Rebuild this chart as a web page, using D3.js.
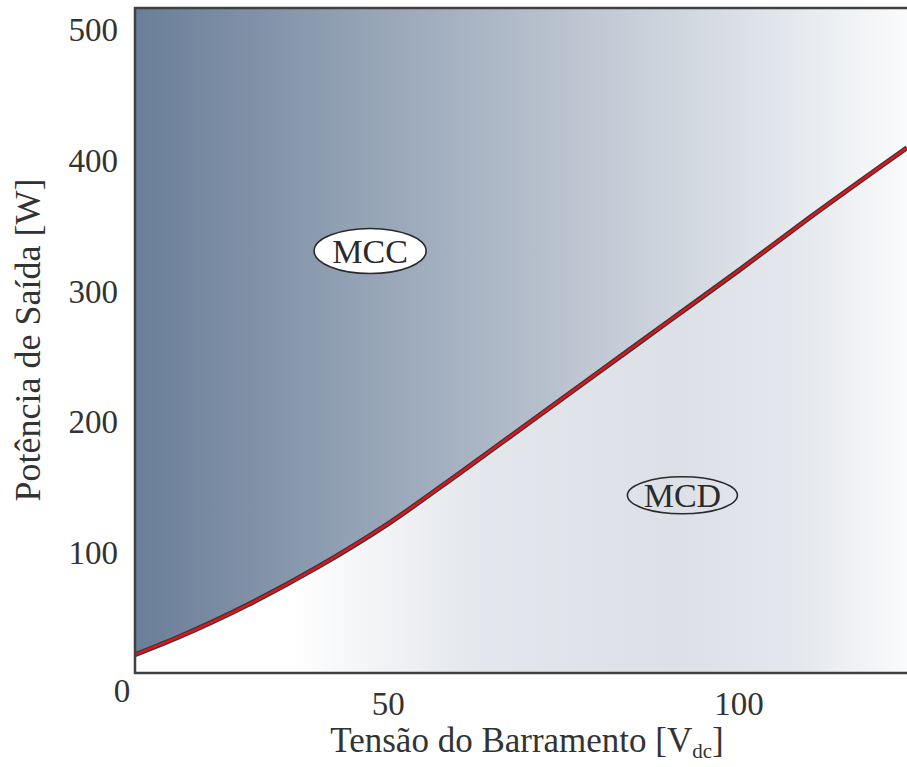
<!DOCTYPE html>
<html>
<head>
<meta charset="utf-8">
<script src="https://cdn.jsdelivr.net/npm/d3@7"></script>
<style>
  html, body { margin: 0; padding: 0; background: #fff; }
  svg { display: block; }
  text { font-family: "Liberation Serif", "Times New Roman", serif; fill: #333; }
</style>
</head>
<body>
<svg id="chart" width="907" height="767"></svg>
<script>
// Boundary between continuous (MCC) and discontinuous (MCD) conduction
const busVoltage = [14, 20, 30, 40, 50, 60, 70, 80, 90, 100, 110, 124];
const outputPower = [22, 35, 60, 89, 122, 160, 199, 238, 277, 316, 356, 410];

const xTickValues = [50, 100];
const yTickValues = [100, 200, 300, 400, 500];
const cornerLabel = "0";

const xTitle = "Tensão do Barramento [V";
const xTitleSub = "dc";
const yTitle = "Potência de Saída [W]";
const regionLabels = ["MCC", "MCD"];

const svg = d3.select("#chart");
const plot = { left: 135, top: 8, right: 907, bottom: 673 };

const x = d3.scaleLinear().domain([14, 124]).range([plot.left, plot.right]);
const y = d3.scaleLinear().domain([8, 517]).range([plot.bottom, plot.top]);

const defs = svg.append("defs");

const gUpper = defs.append("linearGradient")
  .attr("id", "gradUpper").attr("gradientUnits", "userSpaceOnUse")
  .attr("x1", plot.left).attr("x2", plot.right).attr("y1", 0).attr("y2", 0);
gUpper.append("stop").attr("offset", 0).attr("stop-color", "#6a7e98");
gUpper.append("stop").attr("offset", 1).attr("stop-color", "#fafbfc");

const gLower = defs.append("linearGradient")
  .attr("id", "gradLower").attr("gradientUnits", "userSpaceOnUse")
  .attr("x1", plot.left).attr("x2", plot.right).attr("y1", 0).attr("y2", 0);
[[0, "#ffffff"], [0.2, "#ffffff"], [0.45, "#e3e6eb"], [0.7, "#dde1e7"],
 [0.86, "#e4e7ec"], [1, "#fafbfc"]].forEach(([o, c]) =>
  gLower.append("stop").attr("offset", o).attr("stop-color", c));

defs.append("clipPath").attr("id", "plotClip")
  .append("rect").attr("x", plot.left).attr("y", plot.top)
  .attr("width", plot.right - plot.left).attr("height", plot.bottom - plot.top);

const pts = busVoltage.map((v, i) => [v, outputPower[i]]);

const upperArea = d3.area()
  .x(d => x(d[0])).y0(plot.top).y1(d => y(d[1]))
  .curve(d3.curveMonotoneX);
const lowerArea = d3.area()
  .x(d => x(d[0])).y0(plot.bottom).y1(d => y(d[1]))
  .curve(d3.curveMonotoneX);
const boundary = d3.line()
  .x(d => x(d[0])).y(d => y(d[1]))
  .curve(d3.curveMonotoneX);

const g = svg.append("g").attr("clip-path", "url(#plotClip)");
g.append("path").datum(pts).attr("d", upperArea).attr("fill", "url(#gradUpper)");
g.append("path").datum(pts).attr("d", lowerArea).attr("fill", "url(#gradLower)");
g.append("path").datum(pts).attr("d", boundary)
  .attr("fill", "none").attr("stroke", "#383838").attr("stroke-width", 5);
g.append("path").datum(pts).attr("d", boundary)
  .attr("fill", "none").attr("stroke", "#e8111a").attr("stroke-width", 2.4);

// frame: left, top and bottom edges
svg.append("path")
  .attr("d", `M${plot.right},${plot.top}H${plot.left}V${plot.bottom}H${plot.right}`)
  .attr("fill", "none").attr("stroke", "#404040").attr("stroke-width", 2.5);

// region labels
const mcc = svg.append("g").attr("transform", `translate(${x(47.5)},${y(331)})`);
mcc.append("ellipse").attr("rx", 56).attr("ry", 22.5)
  .attr("fill", "#fff").attr("stroke", "#2a2a2a").attr("stroke-width", 1.6);
mcc.append("text").attr("text-anchor", "middle").attr("dy", "0.35em")
  .style("font-size", "34px").style("fill", "#2a2a2a").text(regionLabels[0]);

const mcd = svg.append("g").attr("transform", `translate(${x(92)},${y(144)})`);
mcd.append("ellipse").attr("rx", 55).attr("ry", 18.5)
  .attr("fill", "none").attr("stroke", "#2a2a2a").attr("stroke-width", 1.6);
mcd.append("text").attr("text-anchor", "middle").attr("dy", "0.35em")
  .style("font-size", "34px").style("fill", "#2a2a2a").text(regionLabels[1]);

// axes (labels only)
const yAxis = svg.append("g").attr("transform", `translate(${plot.left},0)`)
  .call(d3.axisLeft(y).tickValues(yTickValues).tickSize(0).tickPadding(17));
yAxis.select(".domain").remove();
yAxis.selectAll("text").style("font-size", "33px").style("font-family", null);

const xAxis = svg.append("g").attr("transform", `translate(0,${plot.bottom})`)
  .call(d3.axisBottom(x).tickValues(xTickValues).tickSize(0));
xAxis.select(".domain").remove();
xAxis.selectAll("text").attr("dy", null).attr("y", 42)
  .style("font-size", "33px").style("font-family", null);

svg.append("text").attr("x", 122).attr("y", 702).attr("text-anchor", "middle")
  .style("font-size", "33px").text(cornerLabel);

// axis titles
const xt = svg.append("text").attr("x", 527).attr("y", 752)
  .attr("text-anchor", "middle").style("font-size", "35px");
xt.append("tspan").text(xTitle);
xt.append("tspan").attr("dy", 6).style("font-size", "21px").text(xTitleSub);
xt.append("tspan").attr("dy", -6).text("]");

svg.append("text")
  .attr("transform", "translate(40,340) rotate(-90)")
  .attr("text-anchor", "middle").style("font-size", "36px").text(yTitle);
</script>
</body>
</html>
